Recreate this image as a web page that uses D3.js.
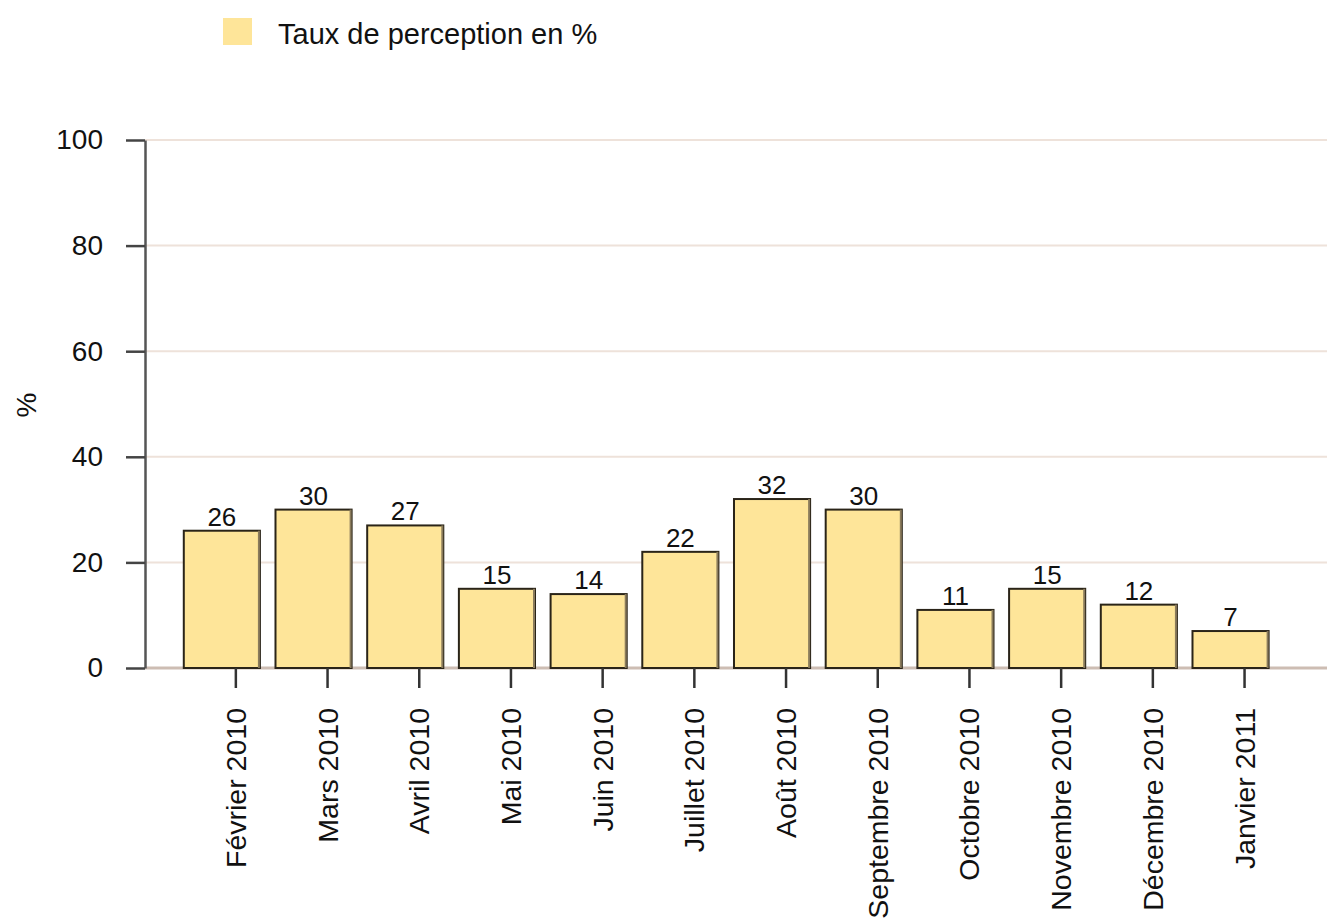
<!DOCTYPE html>
<html>
<head>
<meta charset="utf-8">
<script src="https://cdn.jsdelivr.net/npm/d3@7"></script>
<style>
  body { margin: 0; background: #fff; }
  svg text { font-family: 'Liberation Sans', Arial, sans-serif; fill: #111; }
</style>
</head>
<body>
<svg id="chart" width="1327" height="922"></svg>
<script>
var months = ['Février 2010', 'Mars 2010', 'Avril 2010', 'Mai 2010', 'Juin 2010', 'Juillet 2010',
              'Août 2010', 'Septembre 2010', 'Octobre 2010', 'Novembre 2010', 'Décembre 2010', 'Janvier 2011'];
var rates = [26, 30, 27, 15, 14, 22, 32, 30, 11, 15, 12, 7];
var yTicks = [0, 20, 40, 60, 80, 100];
var seriesName = 'Taux de perception en %';
var yTitle = '%';

var svg = d3.select('#chart');
var plotLeft = 145, plotRight = 1327, plotTop = 140, plotBottom = 668;

var xScale = d3.scaleBand()
               .domain(months)
               .range([176, 1276.4])
               .paddingInner(0.17)
               .paddingOuter(0.085);
var yScale = d3.scaleLinear()
               .domain([0, 100])
               .range([plotBottom, plotTop]);

// gridlines
svg.append('g')
  .selectAll('line')
  .data(yTicks.filter(d => d > 0))
  .enter()
  .append('line')
    .attr('x1', plotLeft)
    .attr('x2', plotRight)
    .attr('y1', d => yScale(d))
    .attr('y2', d => yScale(d))
    .attr('stroke', '#eee2da')
    .attr('stroke-width', 2);

// baseline
svg.append('line')
  .attr('x1', plotLeft)
  .attr('x2', plotRight)
  .attr('y1', yScale(0))
  .attr('y2', yScale(0))
  .attr('stroke', '#cdbdb3')
  .attr('stroke-width', 3);

// y axis
var yAxis = d3.axisLeft(yScale)
              .tickValues(yTicks)
              .tickSize(19)
              .tickSizeOuter(0)
              .tickPadding(23);
var yG = svg.append('g')
  .attr('transform', `translate(${plotLeft}, 0)`)
  .call(yAxis);
yG.select('.domain').attr('stroke', '#555').attr('stroke-width', 2.5);
yG.selectAll('.tick line').attr('stroke', '#444').attr('stroke-width', 2.5);
yG.selectAll('.tick text')
  .style('font-size', '28px')
  .attr('fill', '#111');

svg.append('text')
  .attr('transform', 'translate(26, 405) rotate(-90)')
  .attr('text-anchor', 'middle')
  .attr('dy', '0.35em')
  .style('font-size', '28px')
  .text(yTitle);

// bars
svg.append('g')
  .selectAll('.bar')
  .data(rates)
  .enter()
  .append('rect')
    .classed('bar', true)
    .attr('x', (d, i) => xScale(months[i]))
    .attr('y', d => yScale(d))
    .attr('width', xScale.bandwidth())
    .attr('height', d => yScale(0) - yScale(d))
    .attr('fill', '#fee599')
    .attr('stroke', '#2a2418')
    .attr('stroke-width', 2);

// shaded right edge
svg.append('g')
  .selectAll('line')
  .data(rates)
  .enter()
  .append('line')
    .attr('x1', (d, i) => xScale(months[i]) + xScale.bandwidth() - 1)
    .attr('x2', (d, i) => xScale(months[i]) + xScale.bandwidth() - 1)
    .attr('y1', d => yScale(d))
    .attr('y2', yScale(0))
    .attr('stroke', '#8a7b5c')
    .attr('stroke-width', 2);

// value labels
svg.append('g')
  .selectAll('text')
  .data(rates)
  .enter()
  .append('text')
    .attr('x', (d, i) => xScale(months[i]) + xScale.bandwidth() / 2)
    .attr('y', d => yScale(d) - 5)
    .attr('text-anchor', 'middle')
    .style('font-size', '26px')
    .text(d => d);

// x axis (ticks sit a little right of the bar centres, as in the source)
var xAxis = d3.axisBottom(xScale)
              .tickSize(20)
              .tickSizeOuter(0);
var xG = svg.append('g')
  .attr('transform', `translate(14, ${plotBottom})`)
  .call(xAxis);
xG.select('.domain').remove();
xG.selectAll('.tick line').attr('stroke', '#333').attr('stroke-width', 2.5);
xG.selectAll('.tick text')
  .attr('transform', 'rotate(-90)')
  .attr('x', -40)
  .attr('y', 0)
  .attr('dy', '0.35em')
  .attr('text-anchor', 'end')
  .style('font-size', '28.5px')
  .attr('fill', '#111');

// legend
svg.append('rect')
  .attr('x', 223)
  .attr('y', 18)
  .attr('width', 29)
  .attr('height', 27)
  .attr('fill', '#fee599');
svg.append('text')
  .attr('x', 278)
  .attr('y', 34)
  .attr('dy', '0.35em')
  .style('font-size', '29px')
  .text(seriesName);
</script>
</body>
</html>
